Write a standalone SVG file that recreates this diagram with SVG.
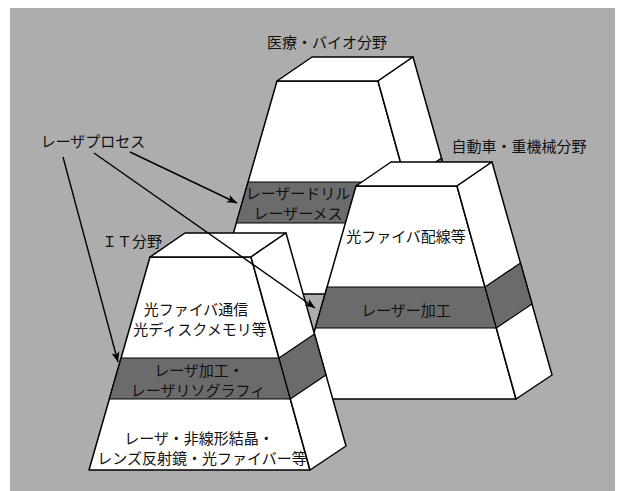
<svg xmlns="http://www.w3.org/2000/svg" width="617" height="491" viewBox="0 0 617 491">
<style>
.face{fill:#ffffff;stroke:#000;stroke-width:1.5;stroke-linejoin:round}
.band{fill:#6b6b6b;stroke:#000;stroke-width:1.2;stroke-linejoin:round}
.t{font-family:"Noto Sans CJK JP","Noto Sans",sans-serif;font-size:15px;fill:#111;text-anchor:middle;dominant-baseline:central}
.conn{stroke:#000;stroke-width:1.4;fill:none}
</style>
<defs>
<marker id="ah" markerUnits="userSpaceOnUse" markerWidth="12" markerHeight="10" refX="10" refY="5" orient="auto">
<path d="M0,1 L10,5 L0,9 L2.5,5 Z" fill="#000"/>
</marker>
<g id="pyr">
<polygon class="face" points="0,0 101,0 160,213 -61,213"/>
<polygon class="face" points="0,0 35,-24 136,-24 101,0"/>
<polygon class="face" points="101,0 136,-24 196,189 160,213"/>
<polygon class="band" points="-28.9,101 129,101 140.3,142 -40.7,142"/>
<polygon class="band" points="129,101 164.5,77 176,118 140.3,142"/>
</g>
</defs>
<rect x="10" y="8" width="605" height="483" fill="#adadad"/>
<g id="medical">
<use href="#pyr" transform="translate(277,81)"/>
<text class="t" x="327" y="41">医療・バイオ分野</text>
<text class="t" x="298" y="192">レーザードリル</text>
<text class="t" x="298" y="212">レーザーメス</text>
</g>
<g id="automotive">
<use href="#pyr" transform="translate(356,186)"/>
<text class="t" x="519" y="145">自動車・重機械分野</text>
<text class="t" x="406" y="235">光ファイバ配線等</text>
<text class="t" x="406" y="309">レーザー加工</text>
</g>
<g id="it">
<use href="#pyr" transform="translate(150,257)"/>
<text class="t" x="132" y="240">ＩＴ分野</text>
<text class="t" x="196" y="308">光ファイバ通信</text>
<text class="t" x="200" y="328">光ディスクメモリ等</text>
<text class="t" x="199" y="369">レーザ加工・</text>
<text class="t" x="198" y="389">レーザリソグラフィ</text>
<text class="t" x="199" y="437">レーザ・非線形結晶・</text>
<text class="t" x="202" y="457">レンズ反射鏡・光ファイバー等</text>
</g>
<g id="laser-process">
<text class="t" x="93" y="140">レーザプロセス</text>
</g>
<g id="connectors">
<line class="conn" x1="63" y1="157" x2="118" y2="362" marker-end="url(#ah)"/>
<line class="conn" x1="130" y1="152" x2="237" y2="203" marker-end="url(#ah)"/>
<line class="conn" x1="94" y1="153" x2="315" y2="308" marker-end="url(#ah)"/>
</g>
</svg>
